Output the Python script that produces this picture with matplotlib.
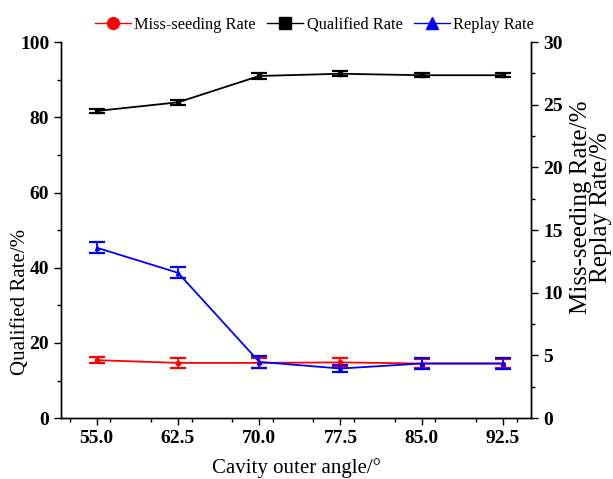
import numpy as np
import matplotlib
matplotlib.use('Agg')
import matplotlib.pyplot as plt
from matplotlib.ticker import MultipleLocator

plt.rcParams['font.family'] = ['Liberation Serif', 'DejaVu Serif']

angles = [55.0, 62.5, 70.0, 77.5, 85.0, 92.5]
tick_labels = ['55.0', '62.5', '70.0', '77.5', '85.0', '92.5']

qualified = [81.7, 84.0, 91.0, 91.6, 91.2, 91.2]
qualified_err = [0.5, 0.7, 0.8, 0.6, 0.6, 0.6]

miss_seeding = [4.63, 4.41, 4.41, 4.45, 4.36, 4.36]
miss_seeding_err = [0.24, 0.37, 0.37, 0.38, 0.37, 0.37]

replay = [13.6, 11.6, 4.49, 3.96, 4.36, 4.36]
replay_err = [0.45, 0.43, 0.45, 0.25, 0.44, 0.44]

fig = plt.figure(figsize=(6.13, 4.79), dpi=100)
ax = fig.add_axes([0.0995, 0.127, 0.767, 0.785])
ax2 = ax.twinx()

ax2.errorbar(angles, miss_seeding, yerr=miss_seeding_err, color='#ff0000',
             lw=1.3, marker='o', ms=3, capsize=6, capthick=1.6, elinewidth=1.3)
ax.errorbar(angles, qualified, yerr=qualified_err, color='black',
            lw=1.3, marker='s', ms=3, capsize=6, capthick=1.6, elinewidth=1.3)
ax2.errorbar(angles, replay, yerr=replay_err, color='#0000ff',
             lw=1.3, marker='^', ms=3, capsize=6, capthick=1.6, elinewidth=1.3)

ax.set_xlim(51.7, 95.1)
ax.set_ylim(0, 100)
ax2.set_ylim(0, 30)

ax.set_xticks(angles)
ax.set_xticklabels(tick_labels)
ax.xaxis.set_minor_locator(MultipleLocator(3.75))
ax.yaxis.set_major_locator(MultipleLocator(20))
ax.yaxis.set_minor_locator(MultipleLocator(10))
ax2.yaxis.set_major_locator(MultipleLocator(5))
ax2.yaxis.set_minor_locator(MultipleLocator(2.5))

for a in (ax, ax2):
    a.spines['top'].set_visible(False)
    for s in a.spines.values():
        s.set_linewidth(1.0)
    a.tick_params(which='major', direction='out', length=5, width=1.0, labelsize=14)
    a.tick_params(which='minor', direction='out', length=3, width=1.0)
    for lab in a.get_xticklabels() + a.get_yticklabels():
        lab.set_fontweight('bold')

ax.set_xlabel('Cavity outer angle/°', fontsize=15, labelpad=8)
ax.set_ylabel('Qualified Rate/%', fontsize=15)
ax.yaxis.set_label_coords(-0.066, 0.31)
ax2.set_ylabel('Miss-seeding Rate/%\nReplay Rate/%', fontsize=18, linespacing=0.85)
ax2.yaxis.set_label_coords(1.083, 0.56)

labels = ['Miss-seeding Rate', 'Qualified Rate', 'Replay Rate']
leg_handles = [plt.Line2D([], [], color=c, marker=m, ms=8.5, lw=1.0)
               for c, m in [('#ff0000', 'o'), ('black', 's'), ('#0000ff', '^')]]
fig.legend(leg_handles, labels, loc='center', bbox_to_anchor=(0.513, 0.948), ncol=3,
           frameon=False, fontsize=11.8, handlelength=2.2, handletextpad=0.2,
           columnspacing=0.7)

fig.savefig('out.png', dpi=100)
